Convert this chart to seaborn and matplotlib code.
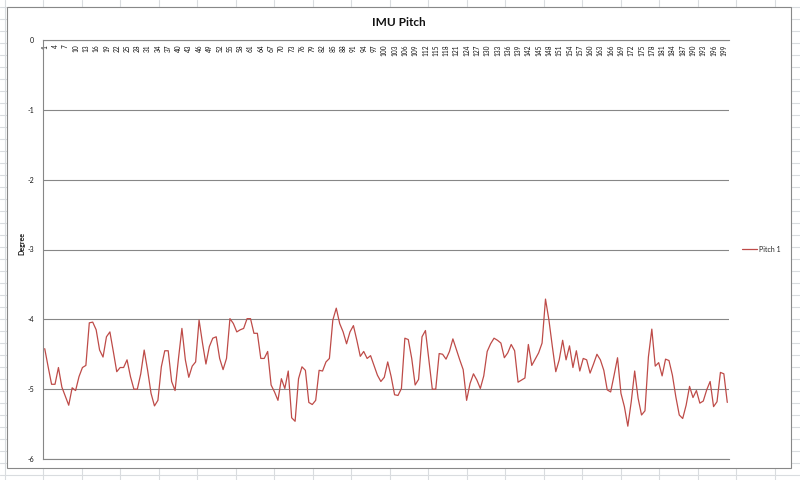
import numpy as np
import pandas as pd
import matplotlib
matplotlib.use("Agg")
import matplotlib.pyplot as plt
import seaborn as sns
from matplotlib.patches import Rectangle
from matplotlib.lines import Line2D

title = "IMU Pitch"
y_label = "Degree"
series_name = "Pitch 1"
samples = list(range(1, 201))
pitch = [
    -4.42, -4.68, -4.93, -4.93, -4.69, -4.97, -5.10, -5.23, -4.98, -5.02,
    -4.82, -4.69, -4.66, -4.05, -4.04, -4.15, -4.44, -4.54, -4.25, -4.18,
    -4.46, -4.75, -4.69, -4.69, -4.58, -4.82, -5.00, -5.00, -4.78, -4.44,
    -4.73, -5.06, -5.24, -5.16, -4.68, -4.45, -4.45, -4.89, -5.02, -4.56,
    -4.13, -4.58, -4.83, -4.67, -4.61, -4.01, -4.34, -4.64, -4.39, -4.27,
    -4.25, -4.56, -4.72, -4.56, -3.99, -4.06, -4.18, -4.15, -4.13, -3.99,
    -3.99, -4.20, -4.20, -4.56, -4.56, -4.46, -4.94, -5.04, -5.16, -4.85,
    -4.99, -4.74, -5.41, -5.46, -4.85, -4.68, -4.73, -5.19, -5.22, -5.16,
    -4.73, -4.74, -4.61, -4.56, -4.01, -3.84, -4.06, -4.18, -4.35, -4.18,
    -4.09, -4.30, -4.53, -4.46, -4.56, -4.52, -4.66, -4.80, -4.89, -4.83,
    -4.61, -4.82, -5.08, -5.09, -4.99, -4.27, -4.29, -4.56, -4.94, -4.86,
    -4.25, -4.16, -4.58, -5.00, -5.00, -4.49, -4.50, -4.57, -4.46, -4.28,
    -4.43, -4.58, -4.72, -5.16, -4.92, -4.78, -4.87, -4.99, -4.81, -4.46,
    -4.35, -4.27, -4.30, -4.34, -4.55, -4.48, -4.36, -4.45, -4.90, -4.87,
    -4.84, -4.36, -4.66, -4.57, -4.48, -4.34, -3.71, -4.01, -4.39, -4.75,
    -4.58, -4.30, -4.58, -4.38, -4.69, -4.45, -4.74, -4.56, -4.58, -4.77,
    -4.64, -4.50, -4.58, -4.73, -5.01, -5.04, -4.80, -4.55, -5.06, -5.25,
    -5.53, -5.18, -4.74, -5.13, -5.37, -5.31, -4.54, -4.14, -4.67, -4.62,
    -4.81, -4.57, -4.59, -4.80, -5.11, -5.37, -5.42, -5.23, -4.96, -5.12,
    -5.02, -5.20, -5.17, -5.01, -4.89, -5.25, -5.18, -4.76, -4.78, -5.19,
]
y_ticks = [0, -1, -2, -3, -4, -5, -6]
x_tick_values = list(range(1, 201, 3))

sns.set_theme(style="white")
plt.rcParams['font.family'] = ['Lato', 'DejaVu Sans']
plt.rcParams['axes.unicode_minus'] = False

W, H = 800, 480
fig = plt.figure(figsize=(8, 4.8), dpi=100)
fig.patch.set_facecolor('white')

# spreadsheet cell grid behind the chart object
cell_color = '#d9dcdf'
for yy in np.arange(7, H + 1, 12):
    fig.add_artist(Line2D([0, 1], [1 - yy / H] * 2, color=cell_color, lw=0.8,
                          transform=fig.transFigure, zorder=-3))
for xx in np.arange(4.5, W + 1, 38.5):
    fig.add_artist(Line2D([xx / W] * 2, [0, 1], color=cell_color, lw=0.8,
                          transform=fig.transFigure, zorder=-3))
# chart area
fig.add_artist(Rectangle((7 / W, 1 - 468 / H), (791 - 7) / W, (468 - 7) / H,
                         facecolor='white', edgecolor='#888888', lw=0.8,
                         transform=fig.transFigure, zorder=-2))

ax = fig.add_axes([43 / W, 1 - 459 / H, (729 - 43) / W, (459 - 40) / H])
ax.set_facecolor('none')

df = pd.DataFrame({'Sample': samples, 'Pitch': pitch})
df['Series'] = series_name
sns.lineplot(data=df, x='Sample', y='Pitch', hue='Series', palette=['#BE4B48'],
             linewidth=0.9, ax=ax)

ax.set_xlim(0.5, 200.5)
ax.set_ylim(-6, 0)

grid_color = '#878787'
ax.set_yticks(y_ticks)
ax.set_yticklabels([str(v) for v in y_ticks], fontsize=5, color='#111111')
ax.yaxis.grid(True, color=grid_color, lw=0.8)
ax.xaxis.grid(False)
ax.tick_params(axis='y', length=0, pad=6.5)

ax.xaxis.tick_top()
ax.set_xticks(x_tick_values)
ax.set_xticklabels([str(v) for v in x_tick_values], rotation=90, fontsize=4.7,
                   color='#111111')
for t in ax.get_xticklabels():
    t.set_va('top')
ax.tick_params(axis='x', length=0, pad=-3.4)
ax.set_xlabel('')

for side in ['left', 'top', 'bottom']:
    ax.spines[side].set_color(grid_color)
    ax.spines[side].set_linewidth(0.8)
ax.spines['right'].set_visible(False)

ax.set_ylabel(y_label, fontsize=5, fontweight='bold', color='#111111')
ax.yaxis.set_label_coords(-0.026, 0.515)

fig.text(399 / W, 1 - 22 / H, title, ha='center', va='center',
         fontsize=8.5, fontweight='bold', color='#111111')

leg = ax.legend(loc='center left', bbox_to_anchor=(1.019, 0.501), frameon=False,
                fontsize=5, handlelength=2.2, handletextpad=0.3,
                borderpad=0, borderaxespad=0)
for line in leg.get_lines():
    line.set_linewidth(0.9)

fig.savefig('out.png', dpi=100)
